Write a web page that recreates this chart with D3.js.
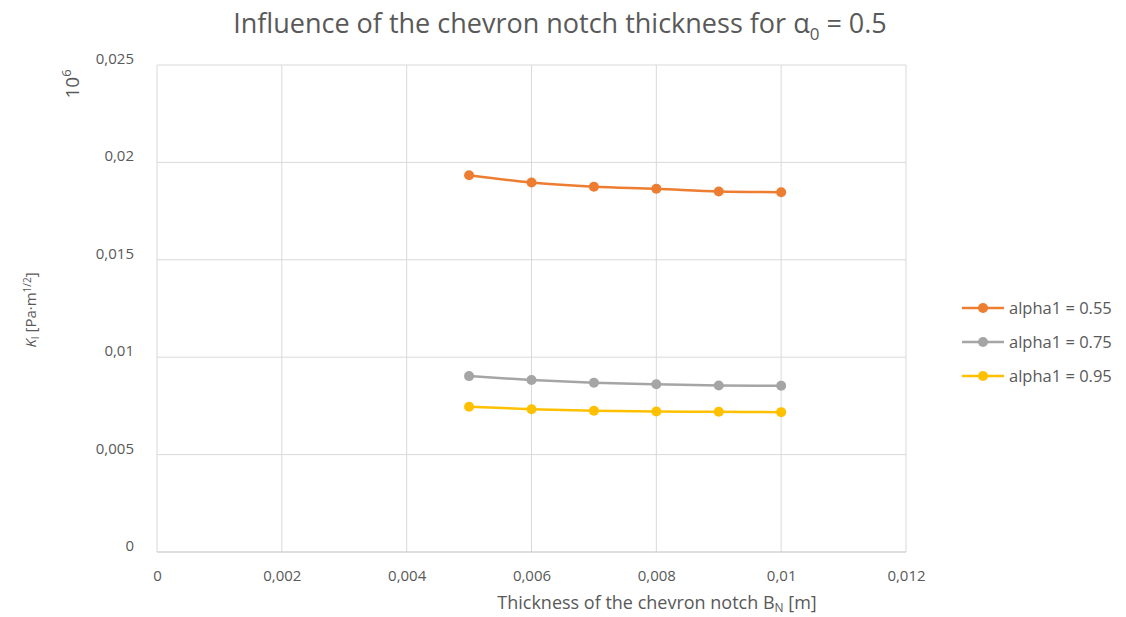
<!DOCTYPE html>
<html>
<head>
<meta charset="utf-8">
<script src="https://cdn.jsdelivr.net/npm/d3@7"></script>
<style>
  body { margin: 0; background: #fff; }
  svg text { font-family: "Open Sans", "Noto Sans", sans-serif; fill: #595959; }
</style>
</head>
<body>
<svg id="chart" width="1126" height="617"></svg>
<script>
// data
const thickness = [0.005, 0.006, 0.007, 0.008, 0.009, 0.01];
const seriesNames = ['alpha1 = 0.55', 'alpha1 = 0.75', 'alpha1 = 0.95'];
const kAlpha055 = [0.01934, 0.01897, 0.01875, 0.01865, 0.01851, 0.01847];
const kAlpha075 = [0.00903, 0.00883, 0.00869, 0.00861, 0.00855, 0.00853];
const kAlpha095 = [0.00746, 0.00733, 0.00725, 0.00721, 0.00720, 0.00718];
const colors = ['#ed7d31', '#a5a5a5', '#ffc000'];
const xTicks = [0, 0.002, 0.004, 0.006, 0.008, 0.01, 0.012];
const yTicks = [0, 0.005, 0.01, 0.015, 0.02, 0.025];

const series = [kAlpha055, kAlpha075, kAlpha095].map((vals, i) => ({
  name: seriesNames[i], color: colors[i],
  points: vals.map((v, j) => ({ x: thickness[j], y: v }))
}));

const svg = d3.select('#chart');
const margin = { left: 157, right: 220, top: 65, bottom: 65 };
const width = 1126, height = 617;

const x = d3.scaleLinear().domain([0, 0.012]).range([margin.left, width - margin.right]);
const y = d3.scaleLinear().domain([0, 0.025]).range([height - margin.bottom, margin.top]);

const fmt = d => String(+d.toFixed(3)).replace('.', ',');

// gridlines
svg.append('g').selectAll('line').data(yTicks.slice(1)).enter().append('line')
  .attr('x1', x(0)).attr('x2', x(0.012))
  .attr('y1', d => y(d)).attr('y2', d => y(d))
  .attr('stroke', '#d9d9d9').attr('stroke-width', 1);
svg.append('g').selectAll('line').data(xTicks).enter().append('line')
  .attr('x1', d => x(d)).attr('x2', d => x(d))
  .attr('y1', y(0)).attr('y2', y(0.025))
  .attr('stroke', '#d9d9d9').attr('stroke-width', 1);
svg.append('line')
  .attr('x1', x(0)).attr('x2', x(0.012)).attr('y1', y(0)).attr('y2', y(0))
  .attr('stroke', '#bfbfbf');

// axes (labels only, Excel style)
const xAxis = svg.append('g').attr('transform', `translate(0,${y(0) + 14})`)
  .call(d3.axisBottom(x).tickValues(xTicks).tickFormat(fmt).tickSize(0));
xAxis.select('.domain').remove();
xAxis.selectAll('text').attr('font-size', 15).attr('dy', '0.8em');

const yAxis = svg.append('g').attr('transform', `translate(${x(0) - 20},0)`)
  .call(d3.axisLeft(y).tickValues(yTicks).tickFormat(fmt).tickSize(0));
yAxis.select('.domain').remove();
yAxis.selectAll('text').attr('font-size', 15).attr('dy', '-0.1em');

// lines + markers
const line = d3.line().x(d => x(d.x)).y(d => y(d.y)).curve(d3.curveMonotoneX);
series.forEach(s => {
  svg.append('path').datum(s.points)
    .attr('d', line).attr('fill', 'none')
    .attr('stroke', s.color).attr('stroke-width', 2.5);
  svg.append('g').selectAll('circle').data(s.points).enter().append('circle')
    .attr('cx', d => x(d.x)).attr('cy', d => y(d.y)).attr('r', 5)
    .attr('fill', s.color);
});

// legend
const legend = svg.append('g').attr('transform', 'translate(962,308)');
series.forEach((s, i) => {
  const g = legend.append('g').attr('transform', `translate(0,${i * 34})`);
  g.append('line').attr('x1', 0).attr('x2', 42).attr('stroke', s.color).attr('stroke-width', 2.5);
  g.append('circle').attr('cx', 21).attr('r', 5).attr('fill', s.color);
  g.append('text').attr('x', 47).attr('dy', '0.35em').attr('font-size', 16.5).text(s.name);
});

// title
const title = svg.append('text').attr('x', 560).attr('y', 33)
  .attr('text-anchor', 'middle').attr('font-size', 27);
title.append('tspan').text('Influence of the chevron notch thickness for \u03b1');
title.append('tspan').attr('font-size', 17).attr('dy', 7).text('0');
title.append('tspan').attr('dy', -7).text(' = 0.5');

// axis titles
const xt = svg.append('text').attr('x', 657).attr('y', 609)
  .attr('text-anchor', 'middle').attr('font-size', 18);
xt.append('tspan').text('Thickness of the chevron notch B');
xt.append('tspan').attr('font-size', 12).attr('dy', 3).text('N');
xt.append('tspan').attr('dy', -3).text(' [m]');

const yt = svg.append('text').attr('transform', 'translate(36,310) rotate(-90)')
  .attr('text-anchor', 'middle').attr('font-size', 15);
yt.append('tspan').attr('font-style', 'italic').text('K');
yt.append('tspan').attr('font-size', 10).attr('dy', 3).text('I');
yt.append('tspan').attr('dy', -3).text(' [Pa\u00b7m');
yt.append('tspan').attr('font-size', 10).attr('dy', -5).text('1/2');
yt.append('tspan').attr('dy', 5).text(']');

const mult = svg.append('text').attr('transform', 'translate(79,84) rotate(-90)')
  .attr('text-anchor', 'middle').attr('font-size', 19);
mult.append('tspan').text('10');
mult.append('tspan').attr('font-size', 13).attr('dy', -8).text('6');
</script>
</body>
</html>
